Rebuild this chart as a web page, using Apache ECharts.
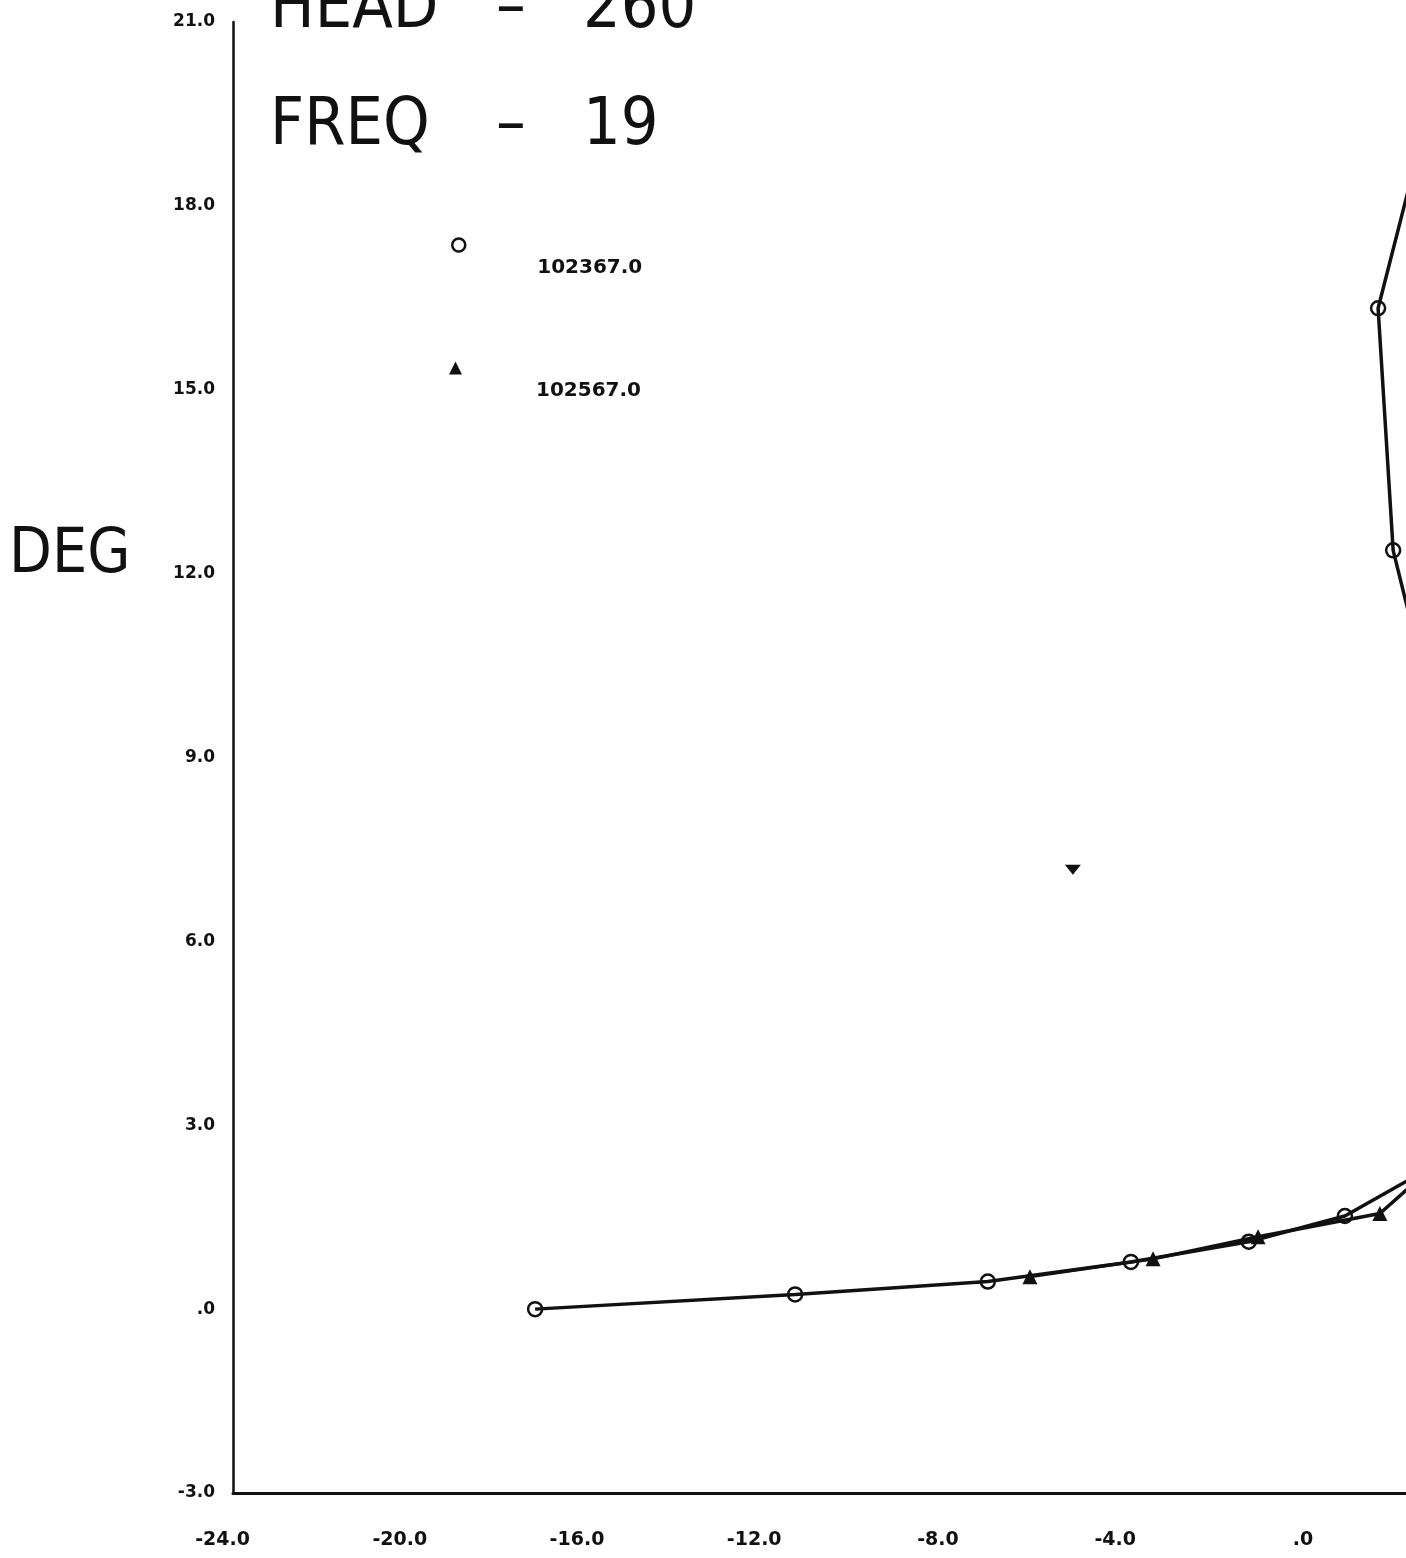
<!DOCTYPE html>
<html>
<head>
<meta charset="utf-8">
<script src="https://cdn.jsdelivr.net/npm/echarts@6/dist/echarts.min.js"></script>
<style>
html,body{margin:0;padding:0;background:#fff;}
#chart{width:1406px;height:1558px;}
</style>
</head>
<body>
<div id="chart"></div>
<script>
// ---- data ----
const seriesNames = ['102367.0', '102567.0'];
// series 1 (circles): x, y  (points beyond x≈2.5 are off the plotted area)
const circX = [-17.18, -11.31, -6.96, -3.73, -1.07, 1.10, 3.5, 3.4, 2.8, 2.19, 1.85, 2.9];
const circY = [0.00, 0.24, 0.45, 0.77, 1.10, 1.52, 2.5, 7.0, 10.6, 12.38, 16.33, 19.3];
// series 2 (triangles)
const triX = [-6.01, -3.23, -0.86, 1.89, 3.2];
const triY = [0.53, 0.82, 1.18, 1.56, 2.4];
// isolated mark
const strayX = [-5.04];
const strayY = [7.17];
// tick labels
const xTicks = [-24, -20, -16, -12, -8, -4, 0];
const xTickLabels = ['-24.0', '-20.0', '-16.0', '-12.0', '-8.0', '-4.0', '.0'];
const yTicks = [-3, 0, 3, 6, 9, 12, 15, 18, 21];
const yTickLabels = ['-3.0', '.0', '3.0', '6.0', '9.0', '12.0', '15.0', '18.0', '21.0'];
// header texts
const headLine1 = ['HEAD', '–', '260'];
const headLine2 = ['FREQ', '–', '19'];
const yName = 'DEG';

const zip = (a, b) => a.map((v, i) => [v, b[i]]);
const INK = '#111';
const bigFont = { fontFamily: "'DejaVu Sans Condensed', 'Liberation Sans Narrow', 'DejaVu Sans'", fontWeight: 'normal', fontSize: 66, color: INK };
const tokX = [270, 496, 583];

const titles = [];
headLine1.forEach((t, i) => titles.push({ text: t, left: tokX[i], top: -23, padding: 0, textStyle: bigFont }));
headLine2.forEach((t, i) => titles.push({ text: t, left: tokX[i], top: 94, padding: 0, textStyle: bigFont }));
titles.push({ text: yName, left: 9, top: 525, padding: 0, textStyle: Object.assign({}, bigFont, { fontSize: 62 }) });

const legendText = { color: INK, fontFamily: 'DejaVu Sans', fontWeight: 'bold', fontSize: 20, lineHeight: 46 };

const chart = echarts.init(document.getElementById('chart'), null, { renderer: 'canvas' });
chart.setOption({
  backgroundColor: '#fff',
  animation: false,
  title: titles,
  legend: [
    {
      data: [{ name: seriesNames[0], icon: 'circle', itemStyle: { color: '#fff', borderColor: INK, borderWidth: 2.5 } }],
      left: 446, top: 194, itemWidth: 13, itemHeight: 13, itemGap: 0,
      formatter: n => '\n' + n,
      textStyle: Object.assign({ padding: [0, 0, 0, 67] }, legendText),
      selectedMode: false
    },
    {
      data: [{ name: seriesNames[1], icon: 'triangle', itemStyle: { color: INK } }],
      left: 444, top: 317, itemWidth: 13, itemHeight: 13, itemGap: 0,
      formatter: n => '\n' + n,
      textStyle: Object.assign({ padding: [0, 0, 0, 69] }, legendText),
      selectedMode: false
    }
  ],
  grid: { left: 233, right: 0, top: 22, bottom: 65, containLabel: false },
  xAxis: {
    type: 'value', min: -24, max: 2.48, interval: 4,
    splitLine: { show: false },
    axisTick: { show: false },
    axisLine: { show: true, onZero: false, lineStyle: { color: INK, width: 3 } },
    axisLabel: {
      showMaxLabel: false,
      margin: 38,
      align: 'center',
      formatter: v => { const i = xTicks.indexOf(v); return i < 0 ? '' : '{t|' + xTickLabels[i] + '}'; },
      rich: { t: { width: 34, align: 'right', fontSize: 19, fontWeight: 'bold', fontFamily: 'DejaVu Sans', color: INK } }
    }
  },
  yAxis: {
    type: 'value', min: -3, max: 21, interval: 3,
    splitLine: { show: false },
    axisTick: { show: false },
    axisLine: { show: true, onZero: false, lineStyle: { color: INK, width: 2.5 } },
    axisLabel: {
      margin: 18,
      color: INK, fontSize: 17, fontWeight: 'bold', fontFamily: 'DejaVu Sans',
      formatter: v => { const i = yTicks.indexOf(v); return i < 0 ? '' : yTickLabels[i]; }
    }
  },
  series: [
    {
      name: seriesNames[0], type: 'line', data: zip(circX, circY),
      symbol: 'circle', symbolSize: 14, showAllSymbol: true, clip: true,
      lineStyle: { color: INK, width: 3.5 },
      itemStyle: { color: 'rgba(255,255,255,0)', borderColor: INK, borderWidth: 2.5 },
      z: 3
    },
    {
      name: seriesNames[1], type: 'line', data: zip(triX, triY),
      symbol: 'triangle', symbolSize: 15, showAllSymbol: true, clip: true,
      lineStyle: { color: INK, width: 3.5 },
      itemStyle: { color: INK },
      z: 2
    },
    {
      name: 'mark', type: 'scatter', data: zip(strayX, strayY),
      symbol: 'triangle', symbolRotate: 180, symbolSize: [16, 10],
      itemStyle: { color: INK, opacity: 1 }, silent: true
    }
  ]
});
</script>
</body>
</html>
